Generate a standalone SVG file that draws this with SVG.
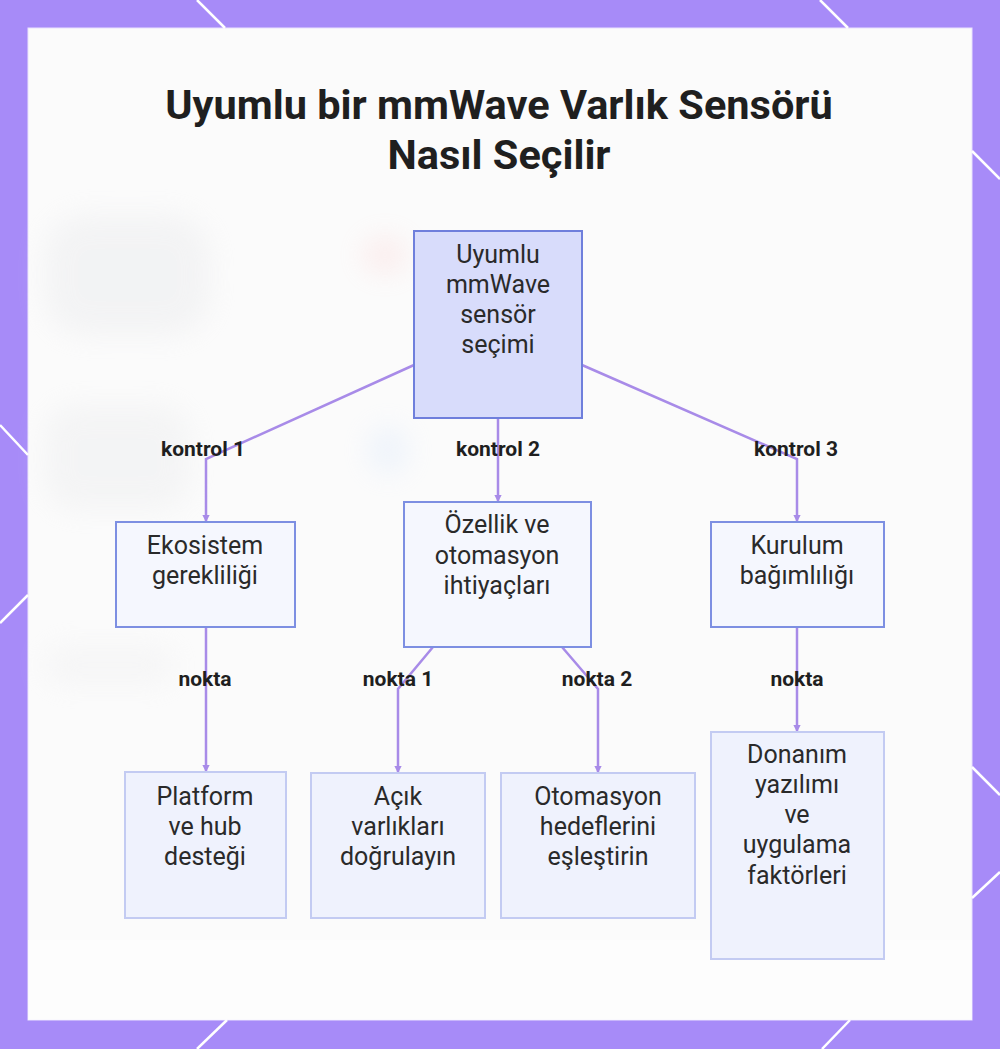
<svg xmlns="http://www.w3.org/2000/svg" width="1000" height="1049" viewBox="0 0 1000 1049">
  <defs>
    <style>
      .frame-line { stroke: #ffffff; stroke-width: 2.5; fill: none; }
      .title { font-family: Roboto, "Liberation Sans", Arial, sans-serif; font-weight: 700; font-size: 41.5px; fill: #1f1f1f; text-anchor: middle; }
      .node-text { font-family: Roboto, "Liberation Sans", Arial, sans-serif; font-size: 25px; fill: #2a2a2a; text-anchor: middle; }
      .edge-label { font-family: Roboto, "Liberation Sans", Arial, sans-serif; font-weight: 700; font-size: 21px; fill: #1f1f1f; text-anchor: middle; }
      .edge { stroke: #a88be8; stroke-width: 2.5; fill: none; marker-end: url(#arrow); }
      .root { fill: #d8dcfb; stroke: #6f7fdc; stroke-width: 2; }
      .mid { fill: #f5f7fe; stroke: #7d8fe2; stroke-width: 2; }
      .leaf { fill: #eff2fd; stroke: #c3cbf2; stroke-width: 2; }
    </style>
    <marker id="arrow" viewBox="0 0 6 6" refX="5" refY="3" markerWidth="3" markerHeight="3" orient="auto" markerUnits="strokeWidth">
      <path d="M0,0 L6,3 L0,6 z" fill="#a88be8"/>
    </marker>
    <filter id="blur" x="-50%" y="-50%" width="200%" height="200%">
      <feGaussianBlur stdDeviation="14"/>
    </filter>
  </defs>

  <!-- frame -->
  <rect x="0" y="0" width="1000" height="1049" fill="#a78bf8"/>
  <rect x="28" y="28" width="944" height="992" fill="#fbfbfb" stroke="#e9e2fd" stroke-width="1"/>
  <g filter="url(#blur)" opacity="0.35">
    <rect x="45" y="215" width="165" height="120" rx="40" fill="#e4e5e8"/>
    <rect x="45" y="405" width="145" height="105" rx="30" fill="#e7e8ea"/>
    <rect x="45" y="645" width="130" height="40" rx="18" fill="#ececee"/>
    <ellipse cx="385" cy="255" rx="22" ry="18" fill="#fbd0d0"/>
    <ellipse cx="388" cy="450" rx="20" ry="24" fill="#d6e5fb"/>
  </g>
  <rect x="28" y="940" width="944" height="80" fill="#ffffff" opacity="0.6"/>
  <g class="frame-lines">
    <line class="frame-line" x1="197" y1="0" x2="225" y2="28"/>
    <line class="frame-line" x1="820" y1="0" x2="848" y2="28"/>
    <line class="frame-line" x1="972" y1="151" x2="1000" y2="179"/>
    <line class="frame-line" x1="972" y1="767" x2="1000" y2="795"/>
    <line class="frame-line" x1="972" y1="898" x2="1000" y2="872"/>
    <line class="frame-line" x1="0" y1="425" x2="28" y2="455"/>
    <line class="frame-line" x1="28" y1="595" x2="0" y2="623"/>
    <line class="frame-line" x1="227" y1="1020" x2="197" y2="1049"/>
    <line class="frame-line" x1="850" y1="1020" x2="822" y2="1049"/>
  </g>

  <!-- title -->
  <g id="title">
    <text class="title" x="499" y="119">Uyumlu bir mmWave Varlık Sensörü</text>
    <text class="title" x="499" y="169">Nasıl Seçilir</text>
  </g>

  <!-- connectors -->
  <g id="connectors">
    <polyline class="edge" points="414,365 206,459 206,521"/>
    <polyline class="edge" points="498,418 498,501"/>
    <polyline class="edge" points="582,365 797,459 797,521"/>
    <polyline class="edge" points="206,628 206,771"/>
    <polyline class="edge" points="433,647 398,689 398,772"/>
    <polyline class="edge" points="562,647 598,689 598,772"/>
    <polyline class="edge" points="797,628 797,731"/>
    <text class="edge-label" x="203" y="456">kontrol 1</text>
    <text class="edge-label" x="498" y="456">kontrol 2</text>
    <text class="edge-label" x="796" y="456">kontrol 3</text>
    <text class="edge-label" x="205" y="686">nokta</text>
    <text class="edge-label" x="398" y="686">nokta 1</text>
    <text class="edge-label" x="597" y="686">nokta 2</text>
    <text class="edge-label" x="797" y="686">nokta</text>
  </g>

  <!-- nodes -->
  <g id="node-root">
    <rect class="root" x="414" y="231" width="168" height="187"/>
    <text class="node-text" x="498" y="263">Uyumlu</text>
    <text class="node-text" x="498" y="293">mmWave</text>
    <text class="node-text" x="498" y="323">sensör</text>
    <text class="node-text" x="498" y="353">seçimi</text>
  </g>
  <g id="node-ekosistem">
    <rect class="mid" x="116" y="522" width="179" height="105"/>
    <text class="node-text" x="205" y="554">Ekosistem</text>
    <text class="node-text" x="205" y="584">gerekliliği</text>
  </g>
  <g id="node-ozellik">
    <rect class="mid" x="404" y="502" width="187" height="145"/>
    <text class="node-text" x="497" y="533">Özellik ve</text>
    <text class="node-text" x="497" y="564">otomasyon</text>
    <text class="node-text" x="497" y="594">ihtiyaçları</text>
  </g>
  <g id="node-kurulum">
    <rect class="mid" x="711" y="522" width="173" height="105"/>
    <text class="node-text" x="797" y="554">Kurulum</text>
    <text class="node-text" x="797" y="584">bağımlılığı</text>
  </g>
  <g id="node-platform">
    <rect class="leaf" x="125" y="772" width="161" height="146"/>
    <text class="node-text" x="205" y="805">Platform</text>
    <text class="node-text" x="205" y="835">ve hub</text>
    <text class="node-text" x="205" y="865">desteği</text>
  </g>
  <g id="node-acik">
    <rect class="leaf" x="311" y="773" width="174" height="145"/>
    <text class="node-text" x="398" y="805">Açık</text>
    <text class="node-text" x="398" y="835">varlıkları</text>
    <text class="node-text" x="398" y="865">doğrulayın</text>
  </g>
  <g id="node-otomasyon">
    <rect class="leaf" x="501" y="773" width="194" height="145"/>
    <text class="node-text" x="598" y="805">Otomasyon</text>
    <text class="node-text" x="598" y="835">hedeflerini</text>
    <text class="node-text" x="598" y="865">eşleştirin</text>
  </g>
  <g id="node-donanim">
    <rect class="leaf" x="711" y="732" width="173" height="227"/>
    <text class="node-text" x="797" y="763">Donanım</text>
    <text class="node-text" x="797" y="793">yazılımı</text>
    <text class="node-text" x="797" y="823">ve</text>
    <text class="node-text" x="797" y="853">uygulama</text>
    <text class="node-text" x="797" y="884">faktörleri</text>
  </g>
</svg>
